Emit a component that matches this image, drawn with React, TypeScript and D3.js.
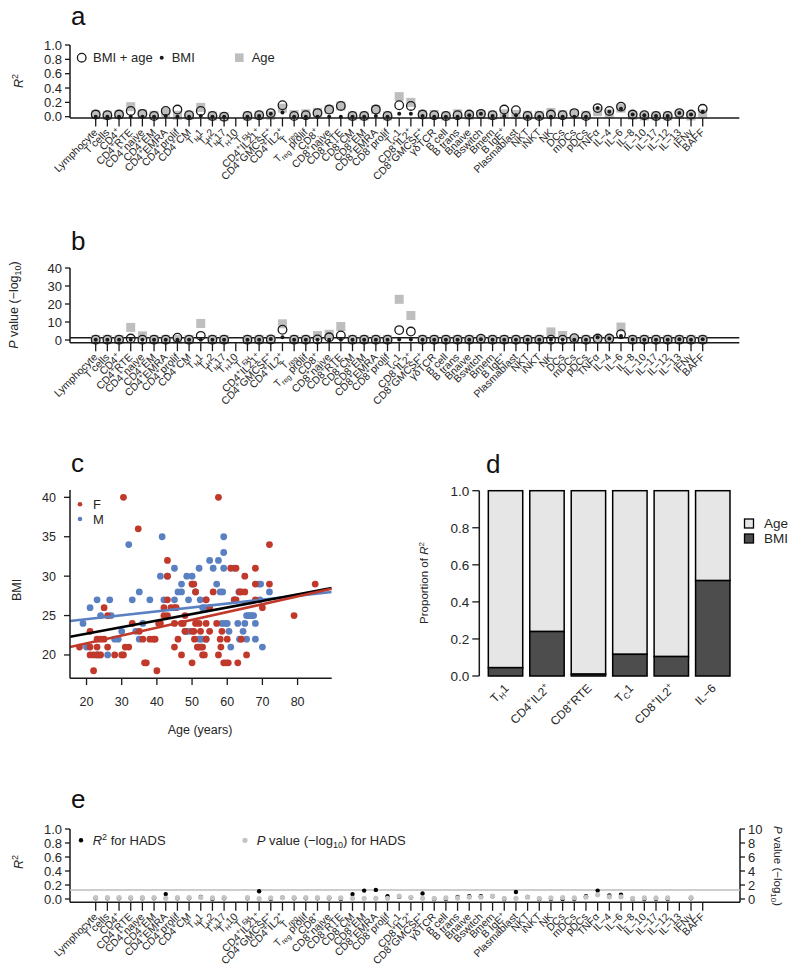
import React from "react";
import * as d3 from "d3";

// ---------- shared categories ----------
const cellLabels: string[] = [
  "Lymphocyte", "T cells", "CD4^{+}", "CD4^{+}RTE", "CD4^{+}naive", "CD4^{+}EM", "CD4^{+}EMRA",
  "CD4^{+}prolif", "CD4^{+}CM", "T_{H}1", "T_{H}2", "T_{H}17", "T_{H}10", "T_{FH}",
  "CD4^{+}IL21^{+}", "CD4^{+}GMCSF^{+}", "CD4^{+}IL2^{+}", "T_{reg}", "T_{reg} prolif", "CD8^{+}",
  "CD8^{+}naive", "CD8^{+}RTE", "CD8^{+}CM", "CD8^{+}EM", "CD8^{+}EMRA", "CD8^{+}prolif", "T_{C}1",
  "CD8^{+}IL2^{+}", "CD8^{+}GMCSF^{+}", "γδTCR", "B cell", "B trans", "Bnaive", "Bswitch", "Bmem",
  "B IgE^{+}", "Plasmablast", "NKT", "iNKT", "NK", "DCs", "mDCs", "pDCs", "TNFα", "IL−4", "IL−6",
  "IL−8", "IL−10", "IL−17", "IL−12", "IL−13", "IFNγ", "BAFF",
];

// ---------- panel a : R2 ----------
const r2BmiAge: (number | null)[] = [
  0.03, 0.02, 0.03, 0.08, 0.04, 0.01, 0.08, 0.10, 0.02, 0.08, 0.01, 0.0, null, 0.01, 0.02, 0.05,
  0.16, 0.01, 0.02, 0.05, 0.10, 0.15, 0.01, 0.01, 0.10, 0.01, 0.16, 0.15, 0.03, 0.02, 0.01, 0.02,
  0.03, 0.04, 0.02, 0.10, 0.09, 0.01, 0.01, 0.03, 0.02, 0.05, 0.01, 0.12, 0.08, 0.14, 0.03, 0.02,
  0.01, 0.01, 0.05, 0.03, 0.11,
];
const r2Bmi: (number | null)[] = [
  0, 0, 0, 0, 0, 0, 0.01, 0, 0, 0.01, 0, 0, null, 0, 0.01, 0.04, 0.06, 0, 0, 0, 0, 0, 0, 0, 0.01, 0,
  0.04, 0.04, 0.01, 0, 0, 0, 0.02, 0.04, 0.01, 0.01, 0.02, 0, 0, 0, 0, 0, 0, 0.12, 0.07, 0.11, 0.03,
  0.02, 0.01, 0.01, 0.05, 0.03, 0.07,
];
const r2Age: (number | null)[] = [
  0.03, 0.02, 0.03, 0.14, 0.04, 0.02, 0.06, 0.02, 0.02, 0.13, 0.01, 0.0, null, 0.01, 0.02, 0.02,
  0.12, 0.03, 0.04, 0.06, 0.10, 0.15, 0.01, 0.01, 0.10, 0.01, 0.28, 0.20, 0.03, 0.03, 0.01, 0.04,
  0.02, 0.03, 0.02, 0.04, 0.03, 0.02, 0.02, 0.06, 0.03, 0.04, 0.02, 0.07, 0.04, 0.12, 0.02, 0.01,
  0.01, 0.01, 0.03, 0.01, 0.04,
];

// ---------- panel b : P value (-log10) ----------
const pBmiAge: (number | null)[] = [
  0.2, 0.2, 0.2, 0.8, 0.2, 0.2, 0.2, 1.3, 0.2, 2.3, 0.2, 0.2, null, 0.2, 0.2, 0.3, 5.7, 0.2, 0.2,
  0.3, 1.5, 2.5, 0.2, 0.2, 0.2, 0.2, 5.5, 4.7, 0.2, 0.2, 0.2, 0.2, 0.2, 0.7, 0.2, 0.2, 0.2, 0.2,
  0.2, 0.2, 0.2, 1.0, 0.2, 0.8, 0.8, 3.2, 0.2, 0.2, 0.2, 0.2, 0.2, 0.2, 0.2,
];
const pBmi: (number | null)[] = [
  0.1, 0.1, 0.1, 0.1, 0.1, 0.1, 0.1, 0.1, 0.1, 0.1, 0.1, 0.1, null, 0.1, 0.1, 0.5, 1.5, 0.1, 0.1,
  0.1, 0.1, 0.1, 0.1, 0.1, 0.1, 0.1, 0.3, 0.3, 0.1, 0.1, 0.1, 0.1, 0.2, 0.4, 0.1, 0.1, 0.2, 0.1,
  0.1, 0.1, 0.1, 0.1, 0.1, 1.5, 0.8, 2.2, 0.3, 0.2, 0.1, 0.1, 0.4, 0.2, 0.4,
];
const pAge: (number | null)[] = [
  0.3, 0.3, 0.3, 7.0, 2.3, 0.3, 0.3, 0.3, 0.3, 9.2, 0.3, 0.3, null, 0.3, 0.3, 0.3, 9.0, 0.3, 0.3,
  2.5, 3.2, 7.5, 0.3, 0.3, 0.3, 0.3, 22.6, 13.6, 0.3, 0.3, 0.3, 0.3, 0.3, 0.3, 0.3, 0.3, 0.3, 0.3,
  0.3, 4.5, 2.5, 0.3, 0.3, 0.3, 0.3, 7.2, 0.3, 0.3, 0.3, 0.3, 0.3, 0.3, 0.3,
];

// ---------- panel c : BMI vs age ----------
const femaleAge = [
  18, 21, 21, 21, 22, 22, 23, 23, 23, 24, 24, 25, 25, 26, 26, 28, 30, 30.5, 30.5, 31, 32, 33, 34.7,
  35, 36, 36.5, 37, 38, 39, 39.5, 40, 41, 40.5, 42, 42, 43, 43, 43, 43, 44, 45, 45.5, 45, 45, 46, 47,
  47.5, 48, 48, 47, 50, 50.5, 50, 50, 50.5, 50.7, 51, 51.5, 52, 52.5, 53, 51, 52, 52.4, 53, 53.5, 54,
  54, 54, 55, 55, 56, 57.5, 57, 57.5, 58, 58.2, 58.5, 59, 59.7, 60.3, 60, 61, 62, 62.5, 62.5, 63,
  63.5, 64, 64, 65, 65, 65.5, 68, 68, 68, 70, 72, 72, 79, 85,
];
const femaleBmi = [
  21, 23, 21, 20, 20, 18, 22, 21, 20, 22, 20, 26, 22, 25, 21, 20, 20, 20, 40, 21, 21, 24, 36, 23, 22,
  19, 19, 22, 22, 22, 18, 24, 24, 26, 25, 25, 32, 30, 27, 26, 26, 26, 24, 21, 22, 24, 24, 25, 23, 20,
  29, 29, 19, 23, 23, 22, 24, 21, 21, 21, 21, 28, 24, 23, 20, 20, 22, 27, 24, 23, 26, 28, 40, 24, 20,
  22, 21, 23, 19, 19, 19, 22, 31, 27, 27, 31, 19, 28, 28, 22, 30, 28, 20, 31, 29, 27, 26, 29, 34, 25,
  29,
];
const maleAge = [
  19, 20, 21, 23, 24, 23, 23.7, 26, 26.6, 27, 28, 29, 30, 32, 33, 34, 35, 35, 36, 38, 41, 41.5, 42,
  43, 45, 45, 46, 47, 47, 48, 48.5, 49, 48.5, 49, 50, 50, 51, 52, 52.7, 52, 52.3, 53, 53.5, 54, 54,
  55, 56, 57, 57.5, 58, 58.7, 59, 59, 59, 58.5, 59.5, 60, 60.5, 61, 62, 62, 63, 63.5, 63.3, 64.5, 65,
  65.5, 66, 66.5, 67, 67.5, 65.5, 68, 68, 69, 69.5, 70, 69.3, 72,
];
const maleBmi = [
  24, 21, 26, 27, 25, 20, 20, 20, 27, 25, 22, 22, 23, 34, 27, 23, 22, 28, 24, 27, 30, 35, 27, 30, 31,
  27, 28, 28, 29, 23, 23, 23, 30, 27, 30, 29, 28, 22, 22, 31, 27, 26, 26, 27, 22, 32, 31, 29, 32, 28,
  28, 35, 33, 31, 24, 24, 24, 23, 21, 31, 27, 24, 22, 28, 23, 24, 25, 25, 25, 25, 25, 22, 24, 22, 29,
  29, 21, 27, 28,
];
// regression fits: [intercept, slope]
const fitAll = [21.03, 0.0833];
const fitFemale = [19.48, 0.0995];
const fitMale = [23.54, 0.0497];

// ---------- panel d : proportion of R2 ----------
const dCells = ["T_{H}1", "CD4^{+}IL2^{+}", "CD8^{+}RTE", "T_{C}1", "CD8^{+}IL2^{+}", "IL−6"];
const dBmiShare = [0.045, 0.24, 0.01, 0.117, 0.105, 0.515];

// ---------- panel e : HADS ----------
const hadsR2: (number | null)[] = [
  0.01, 0.01, 0.01, 0.01, 0.01, 0.01, 0.07, 0.01, 0.01, 0.03, 0.0, 0.01, null, 0.01, 0.11, 0.0, 0.02,
  0.01, 0.01, 0.01, 0.01, 0.0, 0.07, 0.12, 0.13, 0.04, 0.03, 0.02, 0.08, 0.0, 0.0, 0.03, 0.04, 0.04,
  0.04, 0.0, 0.1, 0.03, 0.0, 0.0, 0.0, 0.0, 0.04, 0.12, 0.05, 0.06, 0.0, 0.0, 0.0, 0.0, null, 0.01,
  null,
];
const hadsP: (number | null)[] = [
  0.2, 0.2, 0.2, 0.2, 0.2, 0.2, 0.1, 0.2, 0.2, 0.2, 0.15, 0.2, null, 0.2, 0.05, 0.15, 0.2, 0.2, 0.2,
  0.2, 0.2, 0.15, 0.1, 0.1, 0.1, 0.1, 0.4, 0.25, 0.1, 0.1, 0.15, 0.15, 0.25, 0.25, 0.4, 0.1, 0.1,
  0.25, 0.1, 0.15, 0.2, 0.15, 0.25, 0.6, 0.3, 0.3, 0.1, 0.15, 0.15, 0.15, null, 0.2, null,
];

const axisTicksR2 = [0, 0.2, 0.4, 0.6, 0.8, 1.0];
const axisTicksP = [0, 10, 20, 30, 40];
const axisTicksPe = [0, 2, 4, 6, 8, 10];
const ticksAge = [20, 30, 40, 50, 60, 70, 80];
const ticksBmi = [20, 25, 30, 35, 40];

// ---------- styling ----------
const FONT = "'Liberation Sans', Arial, Helvetica, sans-serif";
const INK = "#1a1a1a";
const TXT = "#262626";
const SQ = "#bebebe";
const RED = "#c0392b";
const BLUE = "#5b80c2";

function Rich({ s, fs }: { s: string; fs: number }) {
  const parts = s.split(/(\^\{[^}]*\}|_\{[^}]*\})/).filter((p) => p.length);
  let shift = 0;
  return (
    <>
      {parts.map((p, i) => {
        const kind = p.startsWith("^{") ? "sup" : p.startsWith("_{") ? "sub" : "n";
        const t = kind === "n" ? p : p.slice(2, -1);
        const target = kind === "sup" ? -0.4 * fs : kind === "sub" ? 0.22 * fs : 0;
        const dy = target - shift;
        shift = target;
        return (
          <tspan key={i} dy={dy} fontSize={kind === "n" ? fs : fs * 0.7}>
            {t}
          </tspan>
        );
      })}
    </>
  );
}

const xCell = d3
  .scalePoint<number>()
  .domain(d3.range(cellLabels.length))
  .range([95.7, 702.7]);

function CellAxis({ y, right = 739.3 }: { y: number; right?: number }) {
  return (
    <g>
      <line x1={70} x2={right} y1={y} y2={y} stroke={INK} strokeWidth={1.5} />
      {cellLabels.map((lab, i) => {
        const x = xCell(i)!;
        return (
          <g key={i}>
            <line x1={x} x2={x} y1={y} y2={y + 8.5} stroke={INK} strokeWidth={1.3} />
            <text
              transform={`translate(${x + 2.5},${y + 15}) rotate(-45)`}
              textAnchor="end"
              fontSize={10.5}
              fill={TXT}
            >
              <Rich s={lab} fs={10.5} />
            </text>
          </g>
        );
      })}
    </g>
  );
}

function LeftAxis({
  scale,
  ticks,
  x,
  yBottom,
  fmt,
  fs = 13,
  tickLen = 5,
}: {
  scale: d3.ScaleLinear<number, number>;
  ticks: number[];
  x: number;
  yBottom?: number;
  fmt: (v: number) => string;
  fs?: number;
  tickLen?: number;
}) {
  const ys = ticks.map((t) => scale(t));
  return (
    <g>
      <line
        x1={x}
        x2={x}
        y1={Math.min(...ys)}
        y2={yBottom ?? Math.max(...ys)}
        stroke={INK}
        strokeWidth={1.5}
      />
      {ticks.map((t) => (
        <g key={t}>
          <line x1={x - tickLen} x2={x} y1={scale(t)} y2={scale(t)} stroke={INK} strokeWidth={1.3} />
          <text
            x={x - tickLen - 3}
            y={scale(t)}
            dy="0.36em"
            textAnchor="end"
            fontSize={fs}
            fill={TXT}
          >
            {fmt(t)}
          </text>
        </g>
      ))}
    </g>
  );
}

function PanelLetter({ x, y, t }: { x: number; y: number; t: string }) {
  return (
    <text x={x} y={y} fontSize={26} fill="#111">
      {t}
    </text>
  );
}

function PanelA() {
  const y = d3.scaleLinear().domain([0, 1]).range([116.7, 45]);
  return (
    <g>
      <PanelLetter x={71} y={25} t="a" />
      <LeftAxis scale={y} ticks={axisTicksR2} x={70} yBottom={118} fmt={d3.format(".1f")} />
      <text transform="translate(23,81) rotate(-90)" textAnchor="middle" fontSize={12.5} fill={TXT}>
        <tspan fontStyle="italic">R</tspan>
        <tspan dy={-5} fontSize={9}>2</tspan>
      </text>
      {r2Age.map((v, i) =>
        v == null ? null : (
          <rect key={i} x={xCell(i)! - 4.5} y={y(v) - 4.5} width={9} height={9} fill={SQ} />
        )
      )}
      {r2BmiAge.map((v, i) =>
        v == null ? null : (
          <circle key={i} cx={xCell(i)!} cy={y(v)} r={4.3} fill="none" stroke={INK} strokeWidth={1.3} />
        )
      )}
      {r2Bmi.map((v, i) =>
        v == null ? null : <circle key={i} cx={xCell(i)!} cy={y(v)} r={2} fill={INK} />
      )}
      <CellAxis y={118} />
      {/* legend */}
      <circle cx={81.7} cy={57.7} r={4.3} fill="none" stroke={INK} strokeWidth={1.3} />
      <text x={93} y={57.7} dy="0.36em" fontSize={13} fill={TXT}>
        BMI + age
      </text>
      <circle cx={161.7} cy={57.7} r={2} fill={INK} />
      <text x={171.7} y={57.7} dy="0.36em" fontSize={13} fill={TXT}>
        BMI
      </text>
      <rect x={235} y={53.4} width={8.6} height={8.6} fill={SQ} />
      <text x={251.7} y={57.7} dy="0.36em" fontSize={13} fill={TXT}>
        Age
      </text>
    </g>
  );
}

function PanelB() {
  const y = d3.scaleLinear().domain([0, 40]).range([340, 268]);
  return (
    <g>
      <PanelLetter x={71} y={250} t="b" />
      <LeftAxis scale={y} ticks={axisTicksP} x={70} yBottom={342.7} fmt={(v) => String(v)} />
      <text transform="translate(18,305) rotate(-90)" textAnchor="middle" fontSize={12.5} fill={TXT}>
        <tspan fontStyle="italic">P</tspan>
        <tspan> value (−log</tspan>
        <tspan dy={3} fontSize={9}>10</tspan>
        <tspan dy={-3}>)</tspan>
      </text>
      <line x1={70} x2={739.3} y1={y(1.3)} y2={y(1.3)} stroke={INK} strokeWidth={1.5} />
      {pAge.map((v, i) =>
        v == null ? null : (
          <rect key={i} x={xCell(i)! - 4.5} y={y(v) - 4.5} width={9} height={9} fill={SQ} />
        )
      )}
      {pBmiAge.map((v, i) =>
        v == null ? null : (
          <circle key={i} cx={xCell(i)!} cy={y(v)} r={4.3} fill="none" stroke={INK} strokeWidth={1.3} />
        )
      )}
      {pBmi.map((v, i) =>
        v == null ? null : <circle key={i} cx={xCell(i)!} cy={y(v)} r={2} fill={INK} />
      )}
      <CellAxis y={342.7} />
    </g>
  );
}

function PanelC() {
  const x = d3.scaleLinear().domain([15.3, 89.7]).range([70, 331.7]);
  const y = d3.scaleLinear().domain([17.04, 40.93]).range([678.3, 490]);
  const fitPath = (f: number[]) =>
    d3
      .line<number>()
      .x((a) => x(a))
      .y((a) => y(f[0] + f[1] * a))(x.domain());
  return (
    <g>
      <PanelLetter x={71} y={472} t="c" />
      <defs>
        <clipPath id="clipC">
          <rect x={70} y={490} width={261.7} height={188.3} />
        </clipPath>
      </defs>
      <g clipPath="url(#clipC)">
        {maleAge.map((a, i) => (
          <circle key={"m" + i} cx={x(a)} cy={y(maleBmi[i])} r={3.4} fill={BLUE} />
        ))}
        {femaleAge.map((a, i) => (
          <circle key={"f" + i} cx={x(a)} cy={y(femaleBmi[i])} r={3.4} fill={RED} />
        ))}
        <path d={fitPath(fitMale)!} stroke={BLUE} strokeWidth={2.6} fill="none" />
        <path d={fitPath(fitAll)!} stroke="#000" strokeWidth={2.6} fill="none" />
        <path d={fitPath(fitFemale)!} stroke={RED} strokeWidth={2.6} fill="none" />
      </g>
      {/* axes */}
      <line x1={70} x2={70} y1={490} y2={678.3} stroke={INK} strokeWidth={1.5} />
      <line x1={70} x2={331.7} y1={678.3} y2={678.3} stroke={INK} strokeWidth={1.5} />
      {ticksBmi.map((t) => (
        <g key={t}>
          <line x1={64} x2={70} y1={y(t)} y2={y(t)} stroke={INK} strokeWidth={1.3} />
          <text x={56} y={y(t)} dy="0.36em" textAnchor="end" fontSize={12.5} fill={TXT}>
            {t}
          </text>
        </g>
      ))}
      {ticksAge.map((t) => (
        <g key={t}>
          <line x1={x(t)} x2={x(t)} y1={678.3} y2={685} stroke={INK} strokeWidth={1.3} />
          <text x={x(t)} y={706} textAnchor="middle" fontSize={12.5} fill={TXT}>
            {t}
          </text>
        </g>
      ))}
      <text x={200} y={734} textAnchor="middle" fontSize={12.5} fill={TXT}>
        Age (years)
      </text>
      <text transform="translate(21,590) rotate(-90)" textAnchor="middle" fontSize={12.5} fill={TXT}>
        BMI
      </text>
      {/* legend */}
      <circle cx={80} cy={504.3} r={2.3} fill={RED} />
      <text x={93} y={504.3} dy="0.36em" fontSize={13} fill={TXT}>
        F
      </text>
      <circle cx={80} cy={519} r={2.3} fill={BLUE} />
      <text x={93} y={519} dy="0.36em" fontSize={13} fill={TXT}>
        M
      </text>
    </g>
  );
}

function PanelD() {
  const x = d3
    .scaleBand<number>()
    .domain(d3.range(dCells.length))
    .range([484.8, 733.5])
    .paddingInner(0.17)
    .paddingOuter(0.085);
  const y = d3.scaleLinear().domain([0, 1]).range([676, 490.7]);
  return (
    <g>
      <PanelLetter x={486} y={473} t="d" />
      <LeftAxis scale={y} ticks={axisTicksR2} x={479.3} fmt={d3.format(".1f")} fs={13.5} tickLen={7} />
      <text transform="translate(428,583) rotate(-90)" textAnchor="middle" fontSize={11.5} fill={TXT}>
        <tspan>Proportion of </tspan>
        <tspan fontStyle="italic">R</tspan>
        <tspan dy={-4.5} fontSize={8}>2</tspan>
      </text>
      {dBmiShare.map((v, i) => (
        <g key={i}>
          <rect
            x={x(i)!}
            y={y(1)}
            width={x.bandwidth()}
            height={y(v) - y(1)}
            fill="#e6e6e6"
            stroke="#000"
            strokeWidth={1.5}
          />
          <rect
            x={x(i)!}
            y={y(v)}
            width={x.bandwidth()}
            height={y(0) - y(v)}
            fill="#4d4d4d"
            stroke="#000"
            strokeWidth={1.5}
          />
          <text
            transform={`translate(${x(i)! + x.bandwidth() / 2 + 4},${689}) rotate(-45)`}
            textAnchor="end"
            fontSize={12}
            fill={TXT}
          >
            <Rich s={dCells[i]} fs={12} />
          </text>
        </g>
      ))}
      {/* legend */}
      <rect x={744.5} y={519} width={9} height={9} fill="#e6e6e6" stroke="#000" strokeWidth={1.3} />
      <text x={764} y={523.5} dy="0.36em" fontSize={13.5} fill={TXT}>
        Age
      </text>
      <rect x={744.5} y={534} width={9} height={9} fill="#4d4d4d" stroke="#000" strokeWidth={1.3} />
      <text x={764} y={538.5} dy="0.36em" fontSize={13.5} fill={TXT}>
        BMI
      </text>
    </g>
  );
}

function PanelE() {
  const y = d3.scaleLinear().domain([0, 1]).range([899, 829]);
  const y2 = d3.scaleLinear().domain([0, 10]).range([899, 829]);
  return (
    <g>
      <PanelLetter x={71} y={808} t="e" />
      <LeftAxis scale={y} ticks={axisTicksR2} x={70} yBottom={902.3} fmt={d3.format(".1f")} />
      <text transform="translate(23,862) rotate(-90)" textAnchor="middle" fontSize={12.5} fill={TXT}>
        <tspan fontStyle="italic">R</tspan>
        <tspan dy={-5} fontSize={9}>2</tspan>
      </text>
      {/* right axis */}
      <line x1={740} x2={740} y1={y2(10)} y2={902.3} stroke={INK} strokeWidth={1.5} />
      {axisTicksPe.map((t) => (
        <g key={t}>
          <line x1={740} x2={745} y1={y2(t)} y2={y2(t)} stroke={INK} strokeWidth={1.3} />
          <text x={748} y={y2(t)} dy="0.36em" fontSize={13} fill={TXT}>
            {t}
          </text>
        </g>
      ))}
      <text transform="translate(774,866) rotate(90)" textAnchor="middle" fontSize={11.5} fill={TXT}>
        <tspan fontStyle="italic">P</tspan>
        <tspan> value (−log</tspan>
        <tspan dy={3} fontSize={8}>10</tspan>
        <tspan dy={-3}>)</tspan>
      </text>
      <line x1={70} x2={740} y1={y2(1.3)} y2={y2(1.3)} stroke="#bdbdbd" strokeWidth={1.5} />
      {hadsR2.map((v, i) =>
        v == null ? null : <circle key={i} cx={xCell(i)!} cy={y(v)} r={2.2} fill="#000" />
      )}
      {hadsP.map((v, i) =>
        v == null ? null : <circle key={i} cx={xCell(i)!} cy={y2(v)} r={2.6} fill="#c4c4c4" />
      )}
      <CellAxis y={902.3} right={740} />
      {/* legend */}
      <circle cx={81} cy={840.3} r={2.2} fill="#000" />
      <text x={92.7} y={840.3} dy="0.36em" fontSize={13} fill={TXT}>
        <tspan fontStyle="italic">R</tspan>
        <tspan dy={-5} fontSize={9}>2</tspan>
        <tspan dy={5}> for HADS</tspan>
      </text>
      <circle cx={245} cy={840.3} r={2.6} fill="#c4c4c4" />
      <text x={256.7} y={840.3} dy="0.36em" fontSize={13} fill={TXT}>
        <tspan fontStyle="italic">P</tspan>
        <tspan> value (−log</tspan>
        <tspan dy={3} fontSize={9}>10</tspan>
        <tspan dy={-3}>) for HADS</tspan>
      </text>
    </g>
  );
}

export default function App() {
  return (
    <svg
      width={800}
      height={968}
      viewBox="0 0 800 968"
      style={{ position: "absolute", left: 0, top: 0, background: "#fff", fontFamily: FONT }}
    >
      <rect width={800} height={968} fill="#fff" />
      <PanelA />
      <PanelB />
      <PanelC />
      <PanelD />
      <PanelE />
    </svg>
  );
}
